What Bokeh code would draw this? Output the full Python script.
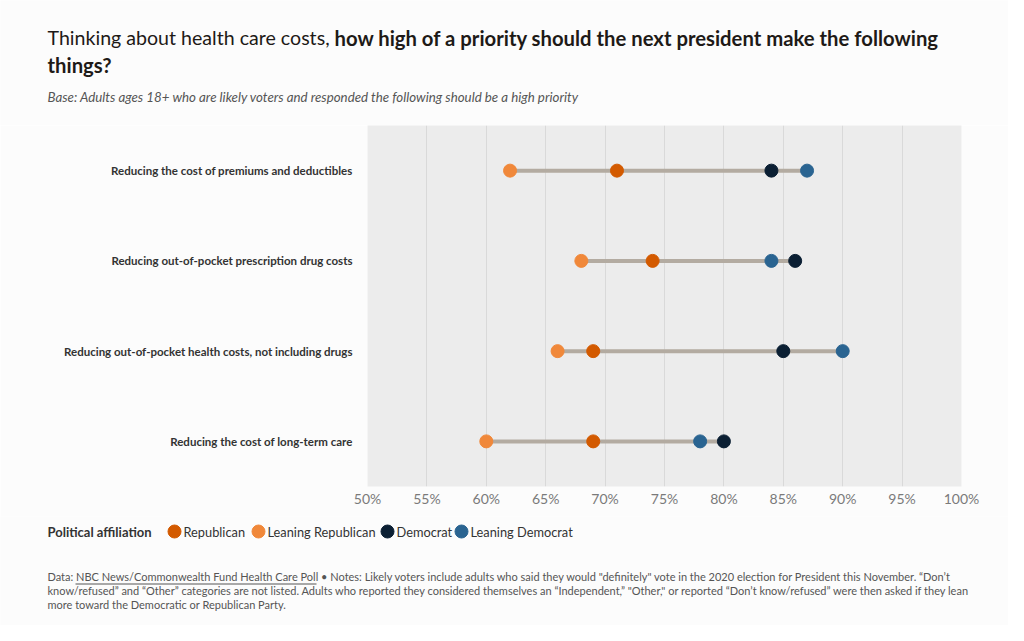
from bokeh.plotting import figure
from bokeh.layouts import column
from bokeh.models import (FactorRange, Label, BoxAnnotation, PrintfTickFormatter, FixedTicker)
from bokeh.embed import file_html
from bokeh.resources import INLINE

categories = [
    "Reducing the cost of premiums and deductibles",
    "Reducing out-of-pocket prescription drug costs",
    "Reducing out-of-pocket health costs, not including drugs",
    "Reducing the cost of long-term care",
]
republican = [71, 74, 69, 69]
leaning_republican = [62, 68, 66, 60]
democrat = [84, 86, 85, 80]
leaning_democrat = [87, 84, 90, 78]
x_ticks = [50, 55, 60, 65, 70, 75, 80, 85, 90, 95, 100]

series_names = ["Republican", "Leaning Republican", "Democrat", "Leaning Democrat"]
series_values = [republican, leaning_republican, democrat, leaning_democrat]
series_colors = ["#d35a00", "#f0883a", "#0b1f33", "#2a6491"]

# legend swatch layout (pixels in the footer panel)
legend_swatch_x = [174, 258, 387, 461]

FONT = "Lato"
BG = "#fcfcfc"
W = 1008


def text_fig(h):
    f = figure(width=W, height=h, x_range=(0, W), y_range=(0, h),
               output_backend="svg", toolbar_location=None,
               x_axis_type=None, y_axis_type=None, frame_align=False,
               min_border=0, min_border_left=0, min_border_right=0,
               min_border_top=0, min_border_bottom=0,
               background_fill_color=BG, border_fill_color=BG, outline_line_color=None)
    f.xgrid.visible = False
    f.ygrid.visible = False
    return f


def lab(f, h, text, X, Y, size, style="normal", color="#222222"):
    f.add_layout(Label(x=X, y=h - Y, text=text, text_font=FONT, text_font_size=size,
                       text_font_style=style, text_color=color,
                       text_baseline="middle", text_align="left"))


# ---------- header ----------
HH = 125
head = text_fig(HH)
lab(head, HH, "Thinking about health care costs,", 47, 37, "19.6px", "normal", "#1e1a17")
lab(head, HH, "how high of a priority should the next president make the following", 334, 37, "20.3px", "bold", "#1e1a17")
lab(head, HH, "things?", 47, 64, "20.3px", "bold", "#1e1a17")
lab(head, HH, "Base: Adults ages 18+ who are likely voters and responded the following should be a high priority",
    47, 96, "13.3px", "italic", "#555555")

# ---------- main chart ----------
MH = 391
p = figure(width=W, height=MH, x_range=(50, 100),
           y_range=FactorRange(*categories[::-1]),
           output_backend="svg", toolbar_location=None, frame_align=False,
           min_border_left=367, min_border_right=47, min_border_top=0, min_border_bottom=30,
           background_fill_color="#ececec", border_fill_color=BG,
           outline_line_color=None)

lows = [min(v) for v in zip(*series_values)]
highs = [max(v) for v in zip(*series_values)]
p.segment(x0=lows, y0=categories, x1=highs, y1=categories, line_color="#b3aba1", line_width=4)

for idx in [1, 0, 2, 3]:
    col = series_colors[idx]
    p.scatter(x=series_values[idx], y=categories, size=13, fill_color=col, line_color=col)

p.ygrid.visible = False
p.xgrid.grid_line_color = "#d9d9d9"
p.xgrid.ticker = FixedTicker(ticks=x_ticks)

xa = p.xaxis[0]
xa.ticker = FixedTicker(ticks=x_ticks)
xa.formatter = PrintfTickFormatter(format="%d%%")
xa.axis_line_color = None
xa.major_tick_line_color = None
xa.major_tick_out = 0
xa.minor_tick_line_color = None
xa.minor_tick_out = 0
xa.major_label_text_font = FONT
xa.major_label_text_font_size = "14px"
xa.major_label_text_color = "#7a7a7a"
xa.major_label_standoff = 3

ya = p.yaxis[0]
ya.axis_line_color = None
ya.major_tick_line_color = None
ya.major_tick_out = 0
ya.minor_tick_out = 0
ya.major_label_text_font = FONT
ya.major_label_text_font_size = "11.5px"
ya.major_label_text_font_style = "bold"
ya.major_label_text_color = "#333333"
ya.major_label_standoff = 15

# ---------- footer with legend and notes ----------
FH = 109
FY0 = HH + MH
LY = FH - (531 - FY0)
foot = text_fig(FH)
lab(foot, FH, "Political affiliation", 47, 531 - FY0, "13px", "bold", "#333333")

foot.scatter(x=legend_swatch_x, y=[LY] * len(series_names), size=13,
             fill_color=series_colors, line_color=series_colors)
for name, sx in zip(series_names, legend_swatch_x):
    lab(foot, FH, name, sx + 9, 531 - FY0, "12.8px", "normal", "#333333")

notes = [
    "Data: NBC News/Commonwealth Fund Health Care Poll \u2022 Notes: Likely voters include adults who said they would \"definitely\" vote in the 2020 election for President this November. \u201cDon\u2019t",
    "know/refused\u201d and \u201cOther\u201d categories are not listed. Adults who reported they considered themselves an \u201cIndependent,\u201d \"Other,\" or reported \u201cDon\u2019t know/refused\u201d were then asked if they lean",
    "more toward the Democratic or Republican Party.",
]
for i, t in enumerate(notes):
    lab(foot, FH, t, 47, 576 + 14 * i - FY0, "11px", "normal", "#555555")

foot.add_layout(BoxAnnotation(left=75, right=316, bottom=FH - (584 - FY0), top=FH - (583 - FY0),
                              fill_color="#555555", fill_alpha=1, line_color=None))

layout = column(head, p, foot, spacing=0)
open("out.html", "w").write(file_html(layout, INLINE))
